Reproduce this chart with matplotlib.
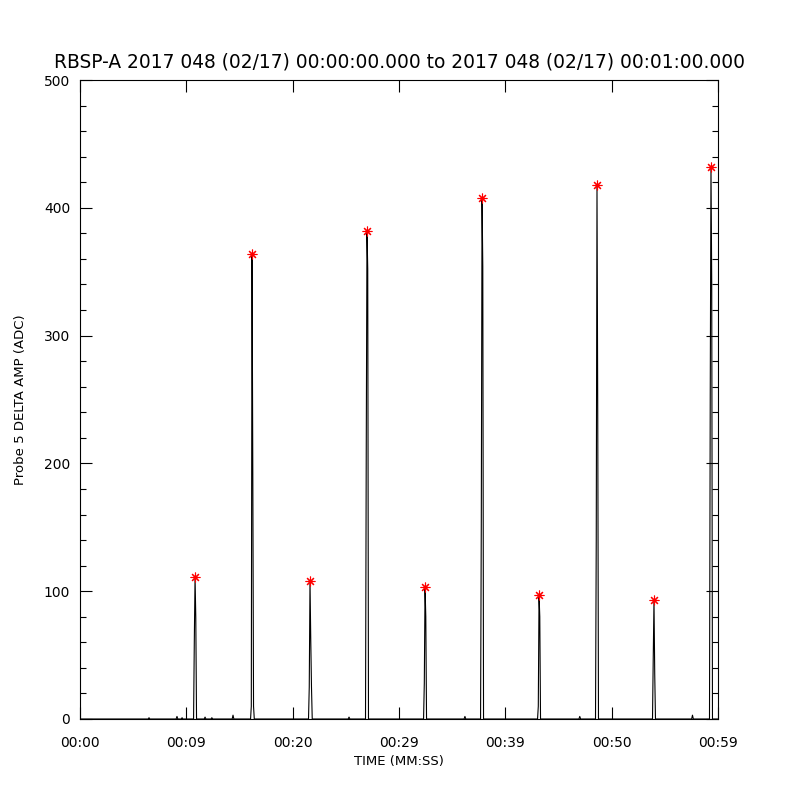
import matplotlib
matplotlib.use("Agg")
import matplotlib.pyplot as plt
import numpy as np

# ---- data ----
title = "RBSP-A 2017 048 (02/17) 00:00:00.000 to 2017 048 (02/17) 00:01:00.000"
xtick_pos = [0, 10, 20, 30, 40, 50, 60]
xtick_labels = ["00:00", "00:09", "00:20", "00:29", "00:39", "00:50", "00:59"]
ytick_pos = [0, 100, 200, 300, 400, 500]

# spike centre times (s), and sample values around each spike
spike_t = [10.82, 16.18, 21.63, 26.99, 32.45, 37.81, 43.17, 48.62, 53.98, 59.34]
spike_samples = [
    [0, 61, 111, 79, 0],
    [0, 10, 364, 195, 10, 0],
    [0, 25, 108, 63, 25, 0],
    [0, 210, 382, 352, 0],
    [0, 28, 103, 80, 0],
    [0, 155, 408, 354, 0],
    [0, 10, 97, 80, 0],
    [0, 140, 418, 240, 0],
    [0, 48, 93, 35, 0],
    [0, 253, 432, 340, 0],
]
spike_peak = [111, 364, 108, 382, 103, 408, 97, 418, 93, 432]

# small baseline blips (time s, value)
blip_t = [6.49, 9.12, 9.6, 11.76, 12.4, 14.39, 25.3, 36.2, 47.0, 57.6]
blip_v = [1, 2, 1, 1.5, 1, 3, 1.5, 2, 2, 3]

# ---- build series ----
dt = 0.07
t = [0.0]
v = [0.0]
events = []
for st, samp in zip(spike_t, spike_samples):
    k = samp.index(max(samp))
    events.append([(st + (i - k) * dt, s) for i, s in enumerate(samp)])
for bt, bv in zip(blip_t, blip_v):
    events.append([(bt - 0.08, 0), (bt, bv), (bt + 0.08, 0)])
events.sort(key=lambda e: e[0][0])
for e in events:
    for a, b in e:
        t.append(a); v.append(b)
t.append(60.0); v.append(0.0)

# ---- plot ----
plt.rcParams['font.family'] = ['DejaVu Sans']
fig = plt.figure(figsize=(8, 8), dpi=100)
ax = fig.add_axes([0.1, 0.10125, 0.7975, 0.79875])
ax.plot(t, v, color='black', lw=0.8)
ax.plot(spike_t, spike_peak, linestyle='none', marker=(8, 2, 0), color='red',
        markersize=7, markeredgewidth=0.8)

ax.set_xlim(0, 60)
ax.set_ylim(0, 500)
ax.set_xticks(xtick_pos)
ax.set_xticklabels(xtick_labels)
ax.set_yticks(ytick_pos)
ax.set_yticks(np.arange(0, 501, 20), minor=True)
ax.tick_params(axis='both', which='major', direction='in', length=8.6, width=0.8,
               top=True, right=True, labelsize=10)
ax.tick_params(axis='x', which='major', pad=12)
ax.tick_params(axis='y', which='major', pad=7)
ax.tick_params(axis='y', which='minor', direction='in', length=4.3, width=0.8,
               left=True, right=True)
ax.tick_params(axis='x', which='minor', bottom=False, top=False)
for sp in ax.spines.values():
    sp.set_linewidth(0.8)

ax.set_title(title, fontsize=13.4, pad=9)
ax.set_xlabel("TIME (MM:SS)", fontsize=9.5, labelpad=4)
ax.set_ylabel("Probe 5 DELTA AMP (ADC)", fontsize=9.5, labelpad=12)

fig.savefig("out.png", dpi=100)
